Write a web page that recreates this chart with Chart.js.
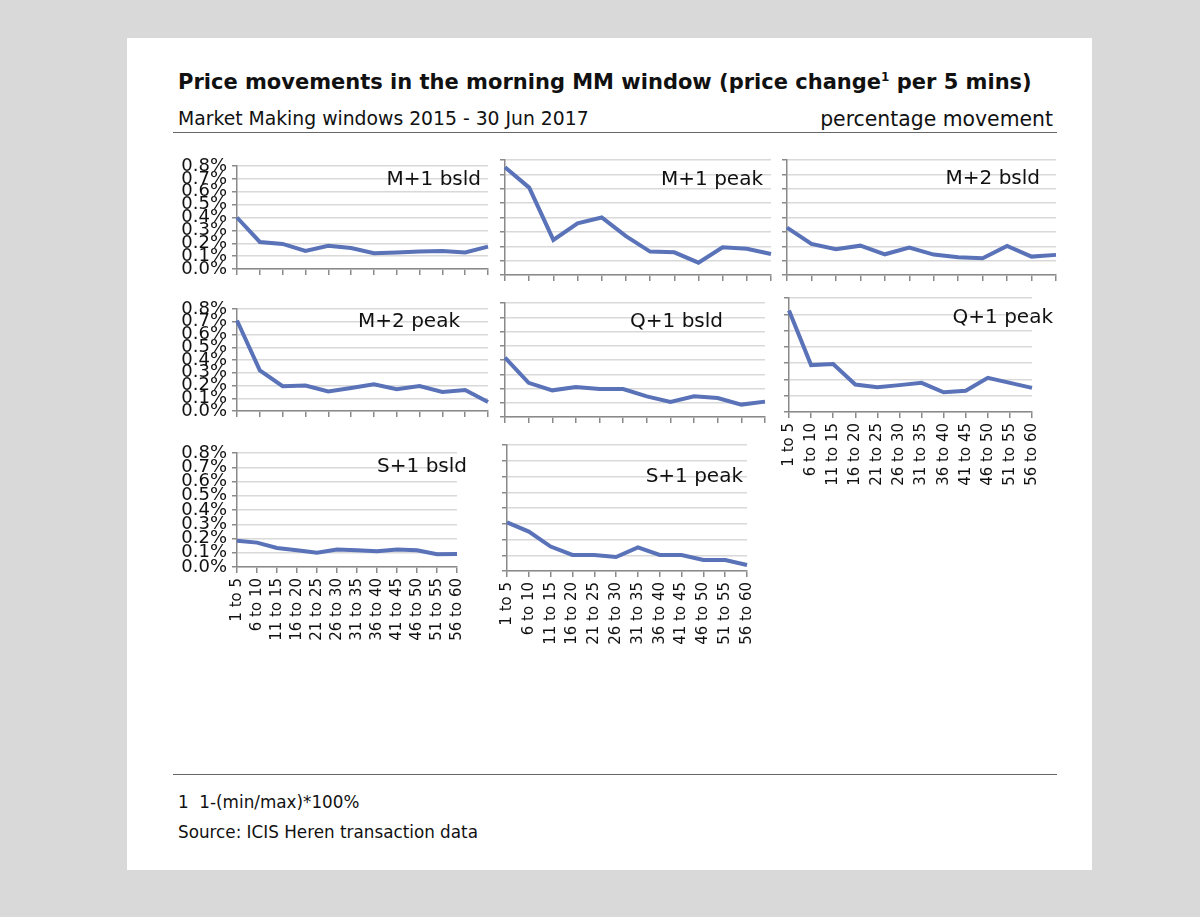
<!DOCTYPE html>
<html>
<head>
<meta charset="utf-8">
<script src="https://cdn.jsdelivr.net/npm/chart.js@4.4.1/dist/chart.umd.min.js"></script>
<style>
  body { margin: 0; background: #d9d9d9; font-family: "DejaVu Sans", Verdana, sans-serif; color: #111; }
  #page { position: relative; width: 1200px; height: 917px; overflow: hidden; }
  #card { position: absolute; left: 127px; top: 38px; width: 965px; height: 832px; background: #fff; }
  .txt { position: absolute; white-space: pre; line-height: 1; }
  .rule { position: absolute; left: 173px; width: 884px; height: 1px; background: #666; }
  .panel { position: absolute; }
  .ptitle { position: absolute; white-space: nowrap; font-size: 20px; line-height: 24px; color: #111; }
</style>
</head>
<body>
<div id="page">
  <div id="card"></div>
  <div class="txt" id="title" style="left:178px; top:72px; font-size:21px; font-weight:bold;">Price movements in the morning MM window (price change<sup style="font-size:12px; line-height:0;">1</sup> per 5 mins)</div>
  <div class="txt" style="left:178px; top:110px; font-size:18.8px;">Market Making windows 2015 - 30 Jun 2017</div>
  <div class="txt" style="right:147px; top:109px; font-size:20.4px;">percentage movement</div>
  <div class="rule" style="top:132px;"></div>
  <div class="rule" style="top:774px;"></div>
  <div class="txt" style="left:178px; top:794px; font-size:16.8px;">1  1-(min/max)*100%</div>
  <div class="txt" style="left:178px; top:824px; font-size:16.8px;">Source: ICIS Heren transaction data</div>
</div>
<script>
// 5-minute buckets of the morning window
const buckets = ['1 to 5', '6 to 10', '11 to 15', '16 to 20', '21 to 25', '26 to 30',
  '31 to 35', '36 to 40', '41 to 45', '46 to 50', '51 to 55', '56 to 60'];

// price change per bucket, in %
const mPlus1Bsld = [0.40, 0.21, 0.195, 0.14, 0.18, 0.163, 0.123, 0.128, 0.135, 0.14, 0.128, 0.174];
const mPlus1Peak = [0.75, 0.608, 0.244, 0.36, 0.40, 0.27, 0.163, 0.158, 0.086, 0.193, 0.183, 0.146];
const mPlus2Bsld = [0.33, 0.216, 0.179, 0.204, 0.144, 0.19, 0.142, 0.123, 0.116, 0.202, 0.128, 0.14];
const mPlus2Peak = [0.71, 0.318, 0.195, 0.20, 0.153, 0.18, 0.21, 0.17, 0.195, 0.15, 0.165, 0.07];
const qPlus1Bsld = [0.416, 0.24, 0.187, 0.21, 0.196, 0.196, 0.145, 0.105, 0.145, 0.133, 0.087, 0.108];
const qPlus1Peak = [0.623, 0.288, 0.294, 0.169, 0.152, 0.165, 0.179, 0.121, 0.13, 0.21, 0.179, 0.148];
const sPlus1Bsld = [0.184, 0.171, 0.133, 0.118, 0.10, 0.122, 0.118, 0.111, 0.122, 0.118, 0.089, 0.091];
const sPlus1Peak = [0.309, 0.25, 0.155, 0.102, 0.102, 0.089, 0.15, 0.102, 0.102, 0.07, 0.07, 0.038];

// y axis limits
const yMaxDefault = 0.8;
const yMaxQ1Peak = 0.7;

// plot area of each small chart on the page: left, top, right, bottom
const panels = [
  { name: 'M+1 bsld', data: mPlus1Bsld, yMax: yMaxDefault, box: [237, 160, 488, 275], yLabels: true,  xLabels: false, tRight: 481, tMid: 178 },
  { name: 'M+1 peak', data: mPlus1Peak, yMax: yMaxDefault, box: [505, 160, 771, 275], yLabels: false, xLabels: false, tRight: 763, tMid: 178 },
  { name: 'M+2 bsld', data: mPlus2Bsld, yMax: yMaxDefault, box: [787, 160, 1056, 275], yLabels: false, xLabels: false, tRight: 1040, tMid: 177 },
  { name: 'M+2 peak', data: mPlus2Peak, yMax: yMaxDefault, box: [237, 303, 488, 417], yLabels: true,  xLabels: false, tRight: 460, tMid: 320 },
  { name: 'Q+1 bsld', data: qPlus1Bsld, yMax: yMaxDefault, box: [505, 303, 765, 417], yLabels: false, xLabels: false, tRight: 723, tMid: 320 },
  { name: 'Q+1 peak', data: qPlus1Peak, yMax: yMaxQ1Peak,  box: [789, 298, 1047, 412], yLabels: false, xLabels: true,  tRight: 1053, tMid: 316 },
  { name: 'S+1 bsld', data: sPlus1Bsld, yMax: yMaxDefault, box: [237, 447, 472, 567], yLabels: true,  xLabels: true,  tRight: 467, tMid: 465 },
  { name: 'S+1 peak', data: sPlus1Peak, yMax: yMaxDefault, box: [507, 445, 762, 571], yLabels: false, xLabels: true,  tRight: 743, tMid: 475 }
];

const lineColor = '#5a72b8';
const gridColor = '#d9d9d9';
const axisColor = '#8a8a8a';
const padTop = 8, padRight = 8;

const page = document.getElementById('page');

panels.forEach((p) => {
  const [left, top, right, bottom] = p.box;
  const padL = p.yLabels ? 64 : 8;
  const padB = p.xLabels ? 80 : 8;

  const wrap = document.createElement('div');
  wrap.className = 'panel';
  wrap.style.left = (left - padL) + 'px';
  wrap.style.top = (top - padTop) + 'px';
  const canvas = document.createElement('canvas');
  canvas.width = right - left + padL + padRight;
  canvas.height = bottom - top + padTop + padB;
  wrap.appendChild(canvas);
  page.appendChild(wrap);

  const label = document.createElement('div');
  label.className = 'ptitle';
  label.textContent = p.name;
  label.style.right = (1200 - p.tRight) + 'px';
  label.style.top = (p.tMid - 12) + 'px';
  page.appendChild(label);

  new Chart(canvas, {
    type: 'line',
    data: {
      labels: buckets,
      datasets: [{
        data: p.data,
        borderColor: lineColor,
        borderWidth: 4,
        pointRadius: 0,
        tension: 0,
        fill: false,
        clip: false
      }]
    },
    options: {
      responsive: false,
      animation: false,
      devicePixelRatio: 1,
      layout: { padding: { top: padTop, right: padRight, left: 0, bottom: 0 } },
      plugins: { legend: { display: false }, tooltip: { enabled: false } },
      scales: {
        x: {
          type: 'category',
          offset: false,
          afterFit: (s) => { s.height = padB; },
          grid: { drawOnChartArea: false, tickColor: axisColor, tickLength: 6, lineWidth: 1.5 },
          border: { color: axisColor, width: 1.5 },
          ticks: {
            display: p.xLabels,
            autoSkip: false,
            maxRotation: 90,
            minRotation: 90,
            padding: 5,
            color: '#111',
            font: { family: 'DejaVu Sans', size: 15 }
          }
        },
        y: {
          min: 0,
          max: p.yMax,
          afterFit: (s) => { s.width = padL; },
          grid: { color: gridColor, lineWidth: 1.5, tickColor: axisColor, tickLength: 5 },
          border: { color: axisColor, width: 1.5 },
          ticks: {
            display: p.yLabels,
            stepSize: 0.1,
            autoSkip: false,
            padding: 5,
            color: '#111',
            font: { family: 'DejaVu Sans', size: 18, lineHeight: 1 },
            callback: (v) => v.toFixed(1) + '%'
          }
        }
      }
    }
  });
});
</script>
</body>
</html>
